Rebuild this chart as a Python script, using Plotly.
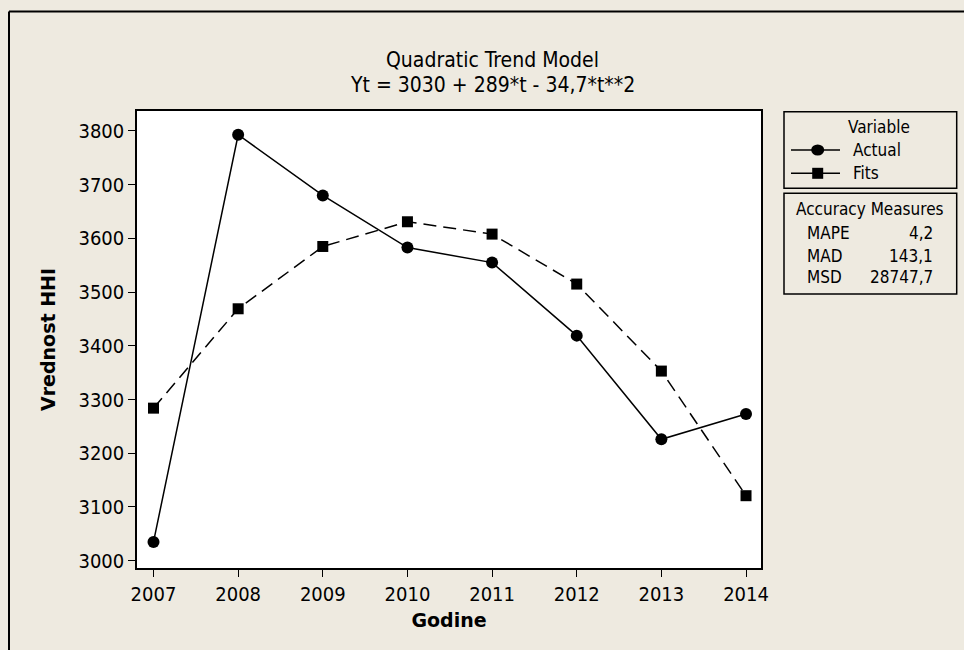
import plotly.graph_objects as go

# Annual HHI values and quadratic trend fits
years = [2007, 2008, 2009, 2010, 2011, 2012, 2013, 2014]
actual = [3035, 3793, 3680, 3583, 3555, 3419, 3226, 3273]
fits = [3284, 3469, 3585, 3631, 3608, 3515, 3353, 3121]

y_ticks = [3000, 3100, 3200, 3300, 3400, 3500, 3600, 3700, 3800]

accuracy_labels = ["MAPE", "MAD", "MSD"]
accuracy_values = ["4,2", "143,1", "28747,7"]

title_lines = ["Quadratic Trend Model", "Yt = 3030 + 289*t - 34,7*t**2"]

FONT = "DejaVu Sans Condensed, DejaVu Sans, sans-serif"
BOLD_FONT = "DejaVu Sans, sans-serif"
BG = "#EEEAE0"

# page geometry (pixels)
W, H = 964, 650
L, R, T, B = 137, 203, 111, 82
PW, PH = W - L - R, H - T - B


def px(x):
    return (x - L) / PW


def py(y):
    return (H - B - y) / PH


fig = go.Figure()
fig.add_trace(go.Scatter(
    x=years, y=actual, name="Actual", mode="lines+markers",
    line=dict(color="black", width=1.5),
    marker=dict(symbol="circle", size=12, color="black"),
    showlegend=False,
))
fig.add_trace(go.Scatter(
    x=years, y=fits, name="Fits", mode="lines+markers",
    line=dict(color="black", width=1.5, dash="13px,7px"),
    marker=dict(symbol="square", size=11, color="black"),
    showlegend=False,
))

shapes = [
    # outer frame (top and left edges)
    dict(type="line", xref="paper", yref="paper", x0=px(9), x1=px(970),
         y0=py(11.5), y1=py(11.5), line=dict(color="black", width=2)),
    dict(type="line", xref="paper", yref="paper", x0=px(9), x1=px(9),
         y0=py(11.5), y1=py(660), line=dict(color="black", width=2)),
    # legend boxes
    dict(type="rect", xref="paper", yref="paper", x0=px(784), x1=px(956.7),
         y0=py(111.7), y1=py(188.3), line=dict(color="black", width=1.5)),
    dict(type="rect", xref="paper", yref="paper", x0=px(784), x1=px(956.7),
         y0=py(193.3), y1=py(294), line=dict(color="black", width=1.5)),
]

# legend key: line sample with symbol for each series
key_rows = [("Actual", 150.0, "circle"), ("Fits", 173.3, "square")]
for label, yy, sym in key_rows:
    shapes.append(dict(type="line", xref="paper", yref="paper",
                       x0=px(791), x1=px(840), y0=py(yy), y1=py(yy),
                       line=dict(color="black", width=1.5)))
    if sym == "circle":
        shapes.append(dict(type="circle", xref="paper", yref="paper",
                           x0=px(817.7 - 6.5), x1=px(817.7 + 6.5),
                           y0=py(yy - 5.5), y1=py(yy + 5.5),
                           fillcolor="black", line=dict(width=0)))
    else:
        shapes.append(dict(type="rect", xref="paper", yref="paper",
                           x0=px(817.7 - 5.5), x1=px(817.7 + 5.5),
                           y0=py(yy - 5.5), y1=py(yy + 5.5),
                           fillcolor="black", line=dict(width=0)))

txt = dict(xref="paper", yref="paper", showarrow=False, yanchor="middle")
annotations = [
    dict(text=title_lines[0], x=px(492), y=py(60), xanchor="center",
         font=dict(size=21, family=FONT, color="black"), **txt),
    dict(text=title_lines[1], x=px(492), y=py(84.5), xanchor="center",
         font=dict(size=21, family=FONT, color="black"), **txt),
    dict(text="Variable", x=px(879), y=py(126.7), xanchor="center",
         font=dict(size=17, family=FONT, color="black"), **txt),
    dict(text="Accuracy Measures", x=px(870), y=py(209), xanchor="center",
         font=dict(size=17, family=FONT, color="black"), **txt),
]
for label, yy, _ in key_rows:
    annotations.append(dict(text=label, x=px(850.7), y=py(yy), xanchor="left",
                            font=dict(size=17, family=FONT, color="black"), **txt))

row_y = [233, 256, 277]
for lab, val, yy in zip(accuracy_labels, accuracy_values, row_y):
    annotations.append(dict(text=lab, x=px(805), y=py(yy), xanchor="left",
                            font=dict(size=17, family=FONT, color="black"), **txt))
    annotations.append(dict(text=val, x=px(935), y=py(yy), xanchor="right",
                            font=dict(size=17, family=FONT, color="black"), **txt))

fig.update_layout(
    width=W, height=H,
    margin=dict(l=L, r=R, t=T, b=B, pad=0),
    paper_bgcolor=BG, plot_bgcolor="white",
    font=dict(family=FONT, size=17, color="black"),
    showlegend=False,
    shapes=shapes,
    annotations=annotations,
    xaxis=dict(
        range=[2006.805, 2014.177], tickvals=years, ticktext=[str(y) for y in years],
        showline=True, linecolor="black", linewidth=1.5, mirror=True,
        ticks="outside", ticklen=7, tickcolor="black", tickwidth=1,
        showgrid=False, zeroline=False,
        tickfont=dict(size=20, family=FONT),
        title=dict(text="<b>Godine</b>", font=dict(size=19, family=BOLD_FONT), standoff=9),
    ),
    yaxis=dict(
        range=[2986.4, 3837.2], tickvals=y_ticks,
        showline=True, linecolor="black", linewidth=1.5, mirror=True,
        ticks="outside", ticklen=7, tickcolor="black", tickwidth=1,
        showgrid=False, zeroline=False,
        tickfont=dict(size=20, family=FONT),
        title=dict(text="<b>Vrednost HHI</b>", font=dict(size=19, family=BOLD_FONT), standoff=18),
    ),
)

fig.write_html("out.html")
